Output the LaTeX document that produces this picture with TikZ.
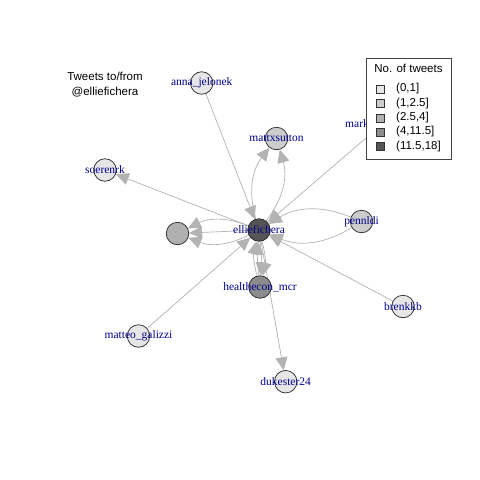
\documentclass[tikz,border=0pt]{standalone}
\usepackage{fontspec}
\setmainfont{Liberation Serif}
\setsansfont{Liberation Sans}
\usetikzlibrary{arrows.meta}
\definecolor{edgegray}{HTML}{B3B3B3}
\definecolor{lab}{HTML}{00008B}
\definecolor{ca}{HTML}{E6E6E6}
\definecolor{cb}{HTML}{CCCCCC}
\definecolor{cc}{HTML}{B0B0B0}
\definecolor{cd}{HTML}{8C8C8C}
\definecolor{ce}{HTML}{555555}
\pgfdeclarelayer{paper}
\pgfdeclarelayer{bg}
\pgfsetlayers{paper,bg,main}
\begin{document}
\begin{tikzpicture}[x=1pt,y=-1pt,
  vtx/.style={circle,draw=black!85,line width=0.7pt,minimum size=22.5pt,inner sep=0pt},
  lbl/.style={text=lab,font=\fontsize{11.5}{12}\selectfont,inner sep=0pt},
  sans/.style={font=\sffamily\fontsize{11.5}{12}\selectfont,inner sep=0pt},
  edge/.style={draw=edgegray,line width=0.7pt,-{Triangle[length=13pt,width=12pt]}},
  key/.style={draw=black!80,line width=0.6pt,minimum size=8pt,inner sep=0pt}
]
\begin{pgfonlayer}{paper}
\fill[white] (0,0) rectangle (480,480);
\end{pgfonlayer}
\useasboundingbox (0,0) rectangle (480,480);

% title
\node[sans] (t1) at (105,76) {Tweets to/from};
\node[sans] (t2) at (105,92) {@elliefichera};

% vertices
\node[vtx,fill=ce] (ellie) at (259,230) {};
\node[vtx,fill=cb] (mattx) at (276.5,138.5) {};
\node[vtx,fill=ca] (anna) at (201.7,83) {};
\node[vtx,fill=ca] (soeren) at (105,170) {};
\node[vtx,fill=cc] (unn) at (177.5,233.5) {};
\node[vtx,fill=cb] (penn) at (361.5,221.5) {};
\node[vtx,fill=cd] (health) at (260,287) {};
\node[vtx,fill=ca] (brenk) at (403,306.5) {};
\node[vtx,fill=ca] (matteo) at (138.5,336) {};
\node[vtx,fill=ca] (duke) at (285.7,381.7) {};
\node[vtx,fill=ca] (mark) at (380,126) {};

% edges
\begin{pgfonlayer}{bg}
\draw[edge] (anna) -- (ellie);
\draw[edge] (ellie) to[bend left=27] (mattx);
\draw[edge] (ellie) to[bend right=27] (mattx);
\draw[edge] (mark) -- (ellie);
\draw[edge] (ellie) -- (soeren);
\draw[edge] (ellie) to[bend left=24] (unn);
\draw[edge] (ellie) -- (unn);
\draw[edge] (ellie) to[bend right=24] (unn);
\draw[edge] (penn) to[bend left=27] (ellie);
\draw[edge] (penn) to[bend right=27] (ellie);
\draw[edge] (brenk) -- (ellie);
\draw[edge] (matteo) -- (ellie);
\draw[edge] (ellie) to[bend left=5] (health);
\draw[edge] (ellie) to[bend left=14] (health);
\draw[edge] (health) to[bend left=5] (ellie);
\draw[edge] (health) to[bend left=14] (ellie);
\draw[edge] (ellie) -- (duke);
\end{pgfonlayer}

% labels
\node[lbl] (lellie) at (ellie.center) {elliefichera};
\node[lbl] (lmattx) at (mattx.center) {mattxsutton};
\node[lbl] (lanna) at (anna.center) {anna\_jelonek};
\node[lbl] (lsoeren) at (soeren.center) {soerenrk};
\node[lbl] (lpenn) at (penn.center) {pennldi};
\node[lbl] (lhealth) at (health.center) {healthecon\_mcr};
\node[lbl] (lbrenk) at (brenk.center) {brenkkb};
\node[lbl] (lmatteo) at (matteo.center) {matteo\_galizzi};
\node[lbl] (lduke) at (duke.center) {dukester24};
\node[lbl,anchor=west] (lmark) at (345,124) {mark};

% legend
\draw[fill=white,draw=black!75,line width=0.6pt] (366,58) rectangle (451,159);
\node[sans] (lt) at (408.5,68) {No. of tweets};
\node[key,fill=ca] (k1) at (380.5,89) {};
\node[key,fill=cb] (k2) at (380.5,103.5) {};
\node[key,fill=cc] (k3) at (380.5,118) {};
\node[key,fill=cd] (k4) at (380.5,132) {};
\node[key,fill=ce] (k5) at (380.5,146.5) {};
\node[sans,anchor=west] (l1) at (396,89) {(0,1]};
\node[sans,anchor=west] (l2) at (396,103.5) {(1,2.5]};
\node[sans,anchor=west] (l3) at (396,118) {(2.5,4]};
\node[sans,anchor=west] (l4) at (396,132) {(4,11.5]};
\node[sans,anchor=west] (l5) at (396,146.5) {(11.5,18]};
\end{tikzpicture}
\end{document}
